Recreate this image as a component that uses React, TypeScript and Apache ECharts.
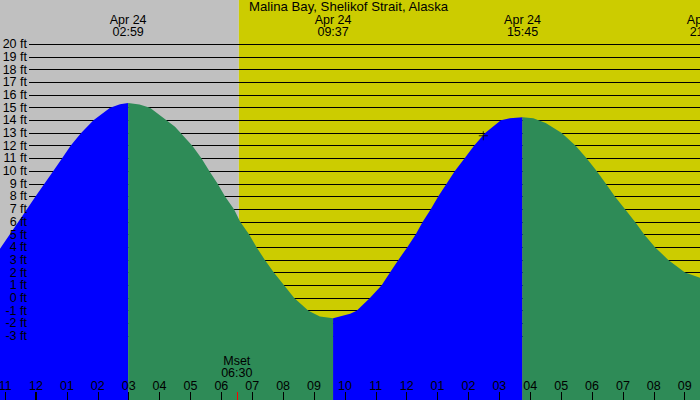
import { useEffect, useRef } from 'react';
import * as echarts from 'echarts';

// Tide heights (ft), hours from midnight Apr 24
const tideHours = [-1.17, -0.57, 0.0, 0.56, 0.84, 1.12, 1.46, 1.86, 2.4, 2.72, 2.983, 3.35, 3.69, 4.5, 5.06, 5.36, 5.61, 5.88, 6.12, 6.41, 6.61, 6.9, 7.14, 7.41, 7.7, 8.03, 8.36, 8.82, 9.19, 9.617, 10.17, 10.38, 10.81, 11.19, 11.46, 11.73, 12.02, 12.29, 12.52, 12.78, 13.02, 13.29, 13.56, 13.87, 14.18, 14.54, 15.05, 15.34, 15.75, 16.1, 16.5, 17.02, 17.47, 17.83, 18.15, 18.45, 18.74, 19.07, 19.39, 19.69, 20.04, 20.47, 21.01, 21.5, 21.667];
const tideFeet = [3.86, 6.0, 8.06, 10.0, 11.0, 12.0, 13.0, 14.0, 15.0, 15.27, 15.37, 15.25, 15.0, 13.5, 12.0, 11.0, 10.0, 9.0, 8.0, 7.0, 6.0, 5.0, 4.0, 3.0, 2.0, 1.0, 0.0, -1.0, -1.45, -1.6, -1.25, -1.0, 0.0, 1.0, 2.0, 3.0, 4.0, 5.0, 6.0, 7.0, 8.0, 9.0, 10.0, 11.0, 12.0, 13.0, 14.0, 14.17, 14.24, 14.16, 13.8, 13.0, 12.0, 11.0, 10.0, 9.0, 8.0, 7.0, 6.0, 5.0, 4.0, 3.0, 2.0, 1.6, 1.5];

// High / low tides
const extremeHours = [2.983, 9.617, 15.75, 21.667];
const extremeTimes = ['02:59', '09:37', '15:45', '21:40'];
const extremeKinds = ['high', 'low', 'high', 'low'];
const extremeDate = 'Apr 24';

// Height tick labels (ft)
const footTicks = [-3, -2, -1, 0, 1, 2, 3, 4, 5, 6, 7, 8, 9, 10, 11, 12, 13, 14, 15, 16, 17, 18, 19, 20];

// Daylight and moon
const dayStarts = [-2, 6.567, 21.6];
const dayEnds = [6.567, 21.6, 23];
const dayKinds = ['night', 'day', 'night'];
const moonsetHour = 6.5;
const moonsetLabel = 'Mset\n06:30';

// Current-time marker
const nowHour = 14.48;
const nowFeet = 12.79;

const title = 'Malina Bay, Shelikof Strait, Alaska';

const FONT = 'Liberation Sans';
const FS = 12.5;
const BLUE = '#0000ff';
const GREEN = '#2e8b57';
const NIGHT = '#c0c0c0';
const DAY = '#cccc00';

// layout: 30.89 px per hour, midnight at x=36
const PX_PER_HOUR = 30.89;
const X_MIN = -2;
const X_MAX = 23;
const GRID_LEFT = 36 + X_MIN * PX_PER_HOUR;
const GRID_WIDTH = (X_MAX - X_MIN) * PX_PER_HOUR;
const PX_PER_FT = 12.69;
const ZERO_Y = 298;

function hourLabel(v: number) {
  const h = ((Math.round(v) % 12) + 12) % 12;
  return String(h === 0 ? 12 : h).padStart(2, '0');
}

export default function App() {
  const ref = useRef<HTMLDivElement>(null);
  useEffect(() => {
    document.body.style.margin = '0';
    const chart = echarts.init(ref.current!, undefined, { renderer: 'svg' });

    const bounds = [tideHours[0], ...extremeHours];
    const tideSeries = extremeHours.map((_, i) => {
      const a = bounds[i];
      const b = bounds[i + 1];
      const data: number[][] = [];
      tideHours.forEach((t, j) => {
        if (t >= a - 1e-9 && t <= b + 1e-9) data.push([t, tideFeet[j]]);
      });
      return {
        type: 'line',
        xAxisIndex: 0,
        yAxisIndex: 0,
        data,
        symbol: 'none',
        smooth: false,
        lineStyle: { width: 0 },
        areaStyle: { color: extremeKinds[i] === 'high' ? BLUE : GREEN, opacity: 1, origin: 'start' },
        z: 5,
        silent: true,
      };
    });

    const bgData = dayStarts.map((s, i) => [s, dayEnds[i], dayKinds[i] === 'day' ? 1 : 0, 0]);
    const fMin = footTicks[0];
    const fMax = footTicks[footTicks.length - 1];

    const baseX = {
      type: 'value',
      gridIndex: 0,
      min: X_MIN,
      max: X_MAX,
      splitLine: { show: false },
      axisLine: { show: false, onZero: false },
      z: 10,
    };

    const labelY = (parity: number) => ({
      type: 'value', gridIndex: 1, position: 'left', min: fMin, max: fMax, interval: 1, z: 10,
      axisLine: { show: false, onZero: false }, axisTick: { show: false }, splitLine: { show: false },
      axisLabel: {
        show: true, hideOverlap: false, margin: 2,
        customValues: footTicks.filter((_, i) => i % 2 === parity),
        color: '#000', fontSize: FS, fontFamily: FONT, lineHeight: 12, formatter: '{value} ft',
      },
    });

    chart.setOption({
      animation: false,
      textStyle: { fontFamily: FONT },
      title: {
        text: title,
        left: 249,
        top: 1,
        padding: 0,
        z: 20,
        textStyle: { fontFamily: FONT, fontSize: 13.2, fontWeight: 'normal', color: '#000', lineHeight: 11 },
      },
      grid: [
        { left: GRID_LEFT, width: GRID_WIDTH, top: 0, bottom: 0, containLabel: false, outerBoundsMode: 'none' },
        { left: 29, right: 0, top: ZERO_Y - fMax * PX_PER_FT, height: (fMax - fMin) * PX_PER_FT, containLabel: false, outerBoundsMode: 'none' },
      ],
      xAxis: [
        {
          ...baseX,
          position: 'bottom',
          interval: 1,
          axisTick: { show: true, inside: true, length: 8, lineStyle: { color: '#000', width: 1 } },
          axisLabel: { show: true, inside: true, margin: 8, hideOverlap: false, color: '#000', fontSize: FS, fontFamily: FONT, lineHeight: 13, formatter: hourLabel },
        },
        {
          ...baseX,
          position: 'bottom',
          axisTick: { show: true, inside: true, length: 8, customValues: [0], lineStyle: { color: '#000', width: 2 } },
          axisLabel: { show: false },
        },
        {
          ...baseX,
          position: 'bottom',
          axisTick: { show: true, inside: true, length: 8, customValues: [moonsetHour], lineStyle: { color: '#ff0000', width: 1 } },
          axisLabel: {
            show: true, inside: true, margin: 20.5, customValues: [moonsetHour], color: '#000', fontSize: FS, fontFamily: FONT, lineHeight: 12.5,
            formatter: () => moonsetLabel,
          },
        },
        {
          ...baseX,
          position: 'top',
          axisTick: { show: false },
          axisLabel: {
            show: true, inside: true, margin: 13.5, customValues: extremeHours, color: '#000', fontSize: FS, fontFamily: FONT, lineHeight: 12.5,
            formatter: (v: number) => {
              let idx = 0;
              extremeHours.forEach((e, i) => { if (Math.abs(e - v) < Math.abs(extremeHours[idx] - v)) idx = i; });
              return extremeDate + '\n' + extremeTimes[idx];
            },
          },
        },
        { type: 'value', gridIndex: 1, show: false, min: 0, max: 1 },
      ],
      yAxis: [
        { type: 'value', gridIndex: 0, show: false, min: (400 - ZERO_Y) / -PX_PER_FT, max: ZERO_Y / PX_PER_FT },
        {
          type: 'value', gridIndex: 1, position: 'left', min: fMin, max: fMax, interval: 1, z: 3,
          axisLine: { show: false, onZero: false }, axisTick: { show: false }, axisLabel: { show: false },
          splitLine: { show: true, lineStyle: { color: '#000', width: 1 } },
        },
        labelY(0),
        labelY(1),
      ],
      series: [
        {
          type: 'custom',
          xAxisIndex: 0,
          yAxisIndex: 0,
          z: 1,
          silent: true,
          data: bgData,
          encode: { x: [0, 1], y: 3 },
          renderItem: (params: any, api: any) => {
            const s = api.coord([api.value(0), 0]);
            const e = api.coord([api.value(1), 0]);
            const cs = params.coordSys;
            return {
              type: 'rect',
              shape: { x: s[0], y: cs.y, width: e[0] - s[0], height: cs.height },
              style: { fill: api.value(2) === 1 ? DAY : NIGHT },
            };
          },
        },
        ...tideSeries,
        {
          type: 'scatter',
          xAxisIndex: 0,
          yAxisIndex: 0,
          z: 6,
          silent: true,
          symbol: 'path://M0,4H9V5H0Z M4,0H5V9H4Z',
          symbolSize: [9, 9],
          itemStyle: { color: '#000' },
          data: [[nowHour, nowFeet]],
        },
      ],
    } as any);
    return () => chart.dispose();
  }, []);
  return <div ref={ref} style={{ width: 700, height: 400 }} />;
}
